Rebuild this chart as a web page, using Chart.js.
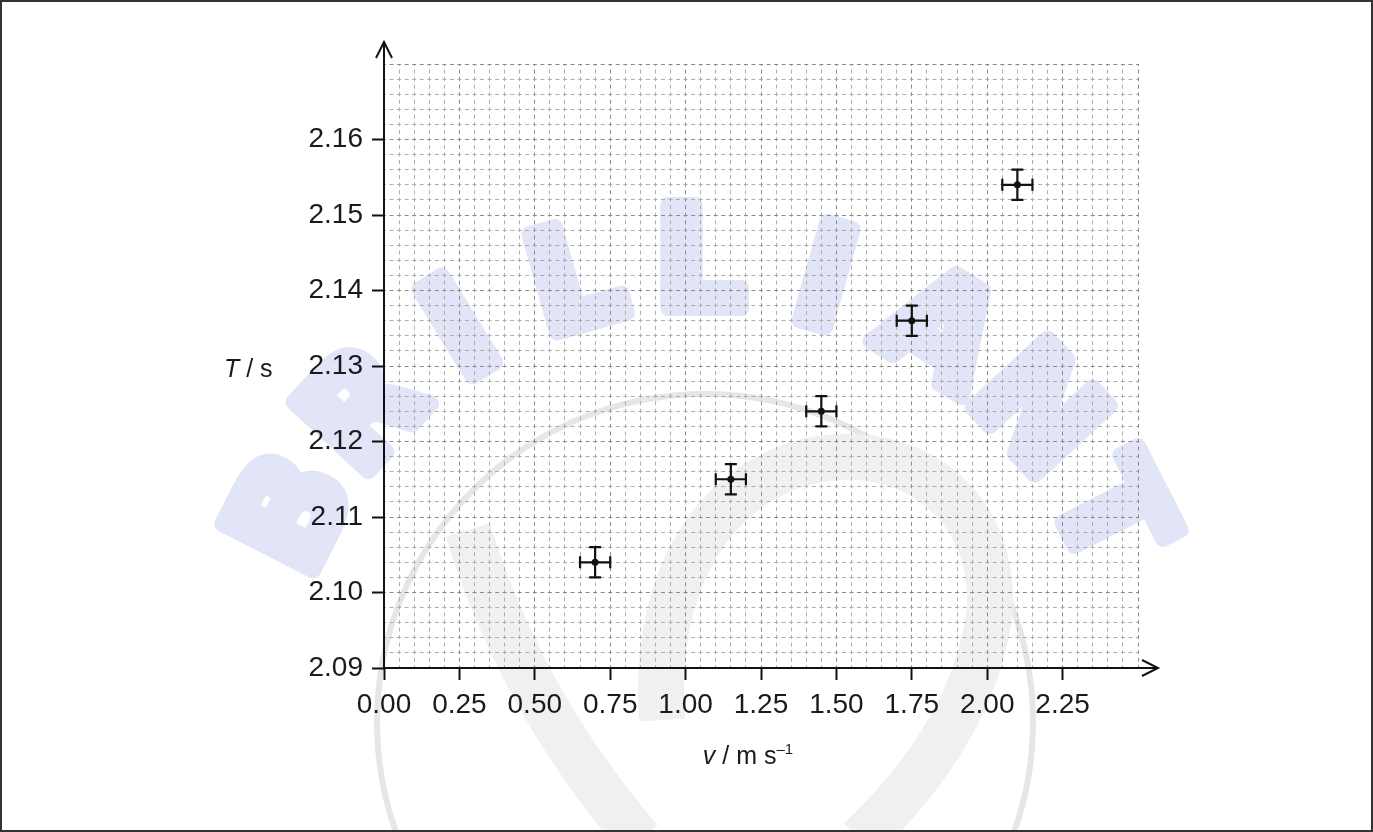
<!DOCTYPE html>
<html>
<head>
<meta charset="utf-8">
<script src="https://cdn.jsdelivr.net/npm/chart.js@4.4.1/dist/chart.umd.min.js"></script>
<style>
  html, body { margin: 0; padding: 0; background: #fff; }
  canvas { display: block; }
</style>
</head>
<body>
<canvas id="period_vs_speed" width="1373" height="832"></canvas>
<script>
const speeds = [0.70, 1.15, 1.45, 1.75, 2.10];
const periods = [2.104, 2.115, 2.124, 2.136, 2.154];
const speedErr = [0.05, 0.05, 0.05, 0.05, 0.05];
const periodErr = [0.002, 0.002, 0.002, 0.002, 0.002];
const xTickLabels = ['0.00', '0.25', '0.50', '0.75', '1.00', '1.25', '1.50', '1.75', '2.00', '2.25'];
const yTickLabels = ['2.09', '2.10', '2.11', '2.12', '2.13', '2.14', '2.15', '2.16'];
const watermark = ['B', 'R', 'I', 'L', 'L', 'I', 'A', 'N', 'T'];

const FONT = '"Liberation Sans", Arial, sans-serif';
Chart.defaults.font.family = FONT;

const onStep = (v, step) => Math.abs(v / step - Math.round(v / step)) < 1e-6;
const isMajorX = v => onStep(v, 0.25) && xTickLabels.includes(v.toFixed(2));
const isMajorY = v => onStep(v, 0.01) && yTickLabels.includes(v.toFixed(2));

// watermark behind the grid
const backdrop = {
    id: 'backdrop',
    beforeDraw(chart) {
        const ctx = chart.ctx;
        ctx.save();
        // grey ring + ribbon
        ctx.strokeStyle = '#e6e6e6';
        ctx.lineWidth = 6;
        ctx.beginPath();
        ctx.arc(705, 722, 328, 0, Math.PI * 2);
        ctx.stroke();
        ctx.strokeStyle = '#f0f0f0';
        ctx.lineWidth = 46;
        ctx.lineCap = 'butt';
        ctx.beginPath();
        ctx.moveTo(662, 720);
        ctx.bezierCurveTo(640, 390, 1000, 390, 990, 610);
        ctx.quadraticCurveTo(975, 730, 860, 840);
        ctx.stroke();
        ctx.beginPath();
        ctx.moveTo(468, 530);
        ctx.quadraticCurveTo(520, 700, 640, 840);
        ctx.stroke();
        // heavy letters on an arc
        ctx.fillStyle = '#e2e5f7';
        ctx.strokeStyle = '#e2e5f7';
        ctx.lineWidth = 16;
        ctx.lineJoin = 'round';
        ctx.font = 'bold 140px "DejaVu Sans", sans-serif';
        ctx.textAlign = 'center';
        ctx.textBaseline = 'middle';
        watermark.forEach((ch, i) => {
            const a = (-63 + i * 15.75) * Math.PI / 180;
            ctx.save();
            ctx.translate(700 + 450 * Math.sin(a), 722 - 450 * Math.cos(a));
            ctx.rotate(a);
            ctx.strokeText(ch, 0, 0);
            ctx.fillText(ch, 0, 0);
            ctx.restore();
        });
        ctx.restore();
    }
};

// error bars under the points
const errorBars = {
    id: 'errorBars',
    beforeDatasetsDraw(chart) {
        const { ctx, scales: { x, y } } = chart;
        ctx.save();
        ctx.strokeStyle = '#111';
        ctx.lineWidth = 2.2;
        const cap = 6;
        speeds.forEach((v, i) => {
            const px = x.getPixelForValue(v), py = y.getPixelForValue(periods[i]);
            const xl = x.getPixelForValue(v - speedErr[i]), xr = x.getPixelForValue(v + speedErr[i]);
            const yt = y.getPixelForValue(periods[i] + periodErr[i]), yb = y.getPixelForValue(periods[i] - periodErr[i]);
            ctx.beginPath();
            ctx.moveTo(xl, py); ctx.lineTo(xr, py);
            ctx.moveTo(xl, py - cap); ctx.lineTo(xl, py + cap);
            ctx.moveTo(xr, py - cap); ctx.lineTo(xr, py + cap);
            ctx.moveTo(px, yt); ctx.lineTo(px, yb);
            ctx.moveTo(px - cap, yt); ctx.lineTo(px + cap, yt);
            ctx.moveTo(px - cap, yb); ctx.lineTo(px + cap, yb);
            ctx.stroke();
        });
        ctx.restore();
    }
};

// axes with arrow heads, axis titles, outer frame
const axesAndTitles = {
    id: 'axesAndTitles',
    afterDraw(chart) {
        const { ctx, chartArea: a, scales: { y } } = chart;
        ctx.save();
        ctx.strokeStyle = '#111';
        ctx.lineWidth = 2;
        const topTip = a.top - 22, rightTip = a.right + 20;
        ctx.beginPath();
        ctx.moveTo(a.left, a.bottom); ctx.lineTo(a.left, topTip);
        ctx.moveTo(a.left - 8, topTip + 16); ctx.lineTo(a.left, topTip); ctx.lineTo(a.left + 8, topTip + 16);
        ctx.moveTo(a.left - 1, a.bottom); ctx.lineTo(rightTip, a.bottom);
        ctx.moveTo(rightTip - 16, a.bottom - 8); ctx.lineTo(rightTip, a.bottom); ctx.lineTo(rightTip - 16, a.bottom + 8);
        ctx.stroke();

        ctx.fillStyle = '#1a1a1a';
        ctx.textBaseline = 'alphabetic';
        ctx.textAlign = 'left';
        // y title
        let tx = 224, ty = y.getPixelForValue(2.13) + 11;
        ctx.font = 'italic 25px ' + FONT;
        ctx.fillText('T', tx, ty);
        tx += ctx.measureText('T').width;
        ctx.font = '25px ' + FONT;
        ctx.fillText(' / s', tx, ty);
        // x title
        const parts = [['italic 25px ', 'v', 0], ['25px ', ' / m s', 0], ['15px ', '\u20131', -10]];
        let w = 0;
        parts.forEach(p => { ctx.font = p[0] + FONT; w += ctx.measureText(p[1]).width; });
        tx = 748 - w / 2; ty = a.bottom + 96;
        parts.forEach(p => {
            ctx.font = p[0] + FONT;
            ctx.fillText(p[1], tx, ty + p[2]);
            tx += ctx.measureText(p[1]).width;
        });
        // frame
        ctx.strokeStyle = '#333';
        ctx.lineWidth = 2;
        ctx.strokeRect(1, 1, chart.width - 2, chart.height - 2);
        ctx.restore();
    }
};

new Chart(document.getElementById('period_vs_speed'), {
    type: 'scatter',
    data: {
        datasets: [{
            data: speeds.map((v, i) => ({ x: v, y: periods[i] })),
            backgroundColor: '#111',
            borderWidth: 0,
            pointRadius: 3.5,
            pointHoverRadius: 3.5,
        }]
    },
    options: {
        responsive: false,
        animation: false,
        layout: { padding: { left: 0, top: 64, right: 235, bottom: 0 } },
        plugins: {
            legend: { display: false },
            tooltip: { enabled: false },
        },
        scales: {
            x: {
                type: 'linear',
                min: 0,
                max: 2.5,
                afterFit: s => { s.height = 164; },
                ticks: {
                    stepSize: 0.05,
                    autoSkip: false,
                    maxRotation: 0,
                    padding: 8,
                    color: '#1a1a1a',
                    font: { size: 28 },
                    callback: v => isMajorX(v) ? v.toFixed(2) : '',
                },
                grid: {
                    color: c => c.tick && onStep(c.tick.value, 0.25) ? '#8a8a8a' : '#adadad',
                    lineWidth: 1,
                    tickLength: 12,
                    tickWidth: 2,
                    tickColor: c => c.tick && isMajorX(c.tick.value) ? '#111' : 'rgba(0,0,0,0)',
                },
                border: { display: false, dash: [4, 3.54], dashOffset: 2 },
            },
            y: {
                type: 'linear',
                min: 2.09,
                max: 2.17,
                afterFit: s => { s.width = 384; },
                ticks: {
                    stepSize: 0.002,
                    autoSkip: false,
                    padding: 9,
                    color: '#1a1a1a',
                    font: { size: 28 },
                    callback: v => isMajorY(v) ? v.toFixed(2) : '',
                },
                grid: {
                    color: c => c.tick && onStep(c.tick.value, 0.01) ? '#8a8a8a' : '#adadad',
                    lineWidth: 1,
                    tickLength: 12,
                    tickWidth: 2,
                    tickColor: c => c.tick && isMajorY(c.tick.value) ? '#111' : 'rgba(0,0,0,0)',
                },
                border: { display: false, dash: [4, 3.54], dashOffset: 2 },
            }
        }
    },
    plugins: [backdrop, errorBars, axesAndTitles],
});
</script>
</body>
</html>
